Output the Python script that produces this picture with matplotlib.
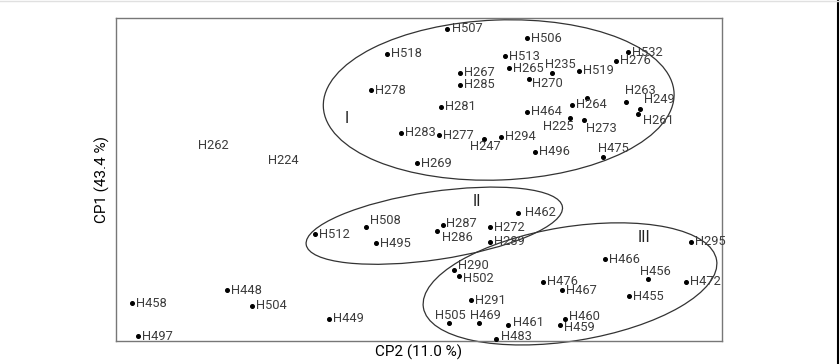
import matplotlib
matplotlib.use("Agg")
import matplotlib.pyplot as plt
from matplotlib.patches import Ellipse

plt.rcParams['font.family'] = ['Roboto', 'DejaVu Sans']

# acessos (scores CP2, CP1, unidades arbitrarias)
nomes = ["H507", "H506", "H518", "H513", "H532", "H276", "H267", "H265", "H235", "H519",
         "H285", "H270", "H278", "H263", "H249", "H281", "H464", "H264", "", "H261",
         "H225", "H273", "H283", "H277", "H294", "H247", "H496", "H475", "H269",
         "H512", "H508", "H495", "H287", "H286", "H272", "H289", "H462",
         "H295", "H466", "H290", "H502", "H456", "H472", "H476", "H467", "H455", "H291",
         "H505", "H469", "H461", "H460", "H459", "H483",
         "H448", "H458", "H504", "H449", "H497"]
cp2 = [446.7, 527.3, 386.7, 505.0, 628.3, 616.0, 460.0, 508.7, 552.3, 579.0,
       460.0, 529.3, 370.7, 626.3, 640.0, 440.7, 527.3, 572.0, 586.7, 638.0,
       569.7, 584.3, 401.0, 439.0, 500.7, 484.0, 534.7, 602.7, 417.0,
       315.3, 365.7, 376.3, 442.7, 436.7, 490.0, 490.0, 518.3,
       690.7, 605.0, 453.7, 459.0, 648.3, 686.3, 542.7, 561.7, 629.3, 471.0,
       449.3, 478.7, 508.3, 565.3, 559.7, 496.0,
       227.0, 132.3, 252.3, 329.3, 137.7]
cp1 = [29.0, 38.0, 53.7, 56.3, 52.3, 60.7, 73.0, 68.3, 73.0, 71.0,
       84.7, 79.3, 90.0, 102.0, 108.7, 106.7, 111.7, 104.7, 97.7, 114.0,
       118.0, 120.3, 132.7, 135.3, 137.0, 139.0, 151.7, 157.3, 163.3,
       234.0, 227.0, 243.3, 225.3, 231.3, 227.3, 241.7, 213.0,
       241.7, 259.3, 269.7, 275.7, 279.3, 281.7, 281.7, 290.0, 296.0, 300.0,
       323.3, 323.3, 324.7, 318.7, 324.7, 338.7,
       290.0, 303.3, 305.7, 318.7, 336.0]

# acessos sem ponto marcado (so rotulo)
soltos = ["H262", "H224"]
soltos_x = [198.0, 268.0]
soltos_y = [145.5, 161.0]

# grupos: centro x, centro y, largura, altura, angulo
grupos = ["I", "II", "III"]
grupo_cx = [498.7, 434.3, 570.0]
grupo_cy = [100.0, 225.7, 283.9]
grupo_w = [351.0, 259.0, 297.0]
grupo_h = [160.0, 68.0, 114.0]
grupo_ang = [-2.2, -8.4, -9.2]
rot_x = [346.7, 476.7, 644.0]
rot_y = [118.3, 201.7, 237.3]

# deslocamento dos rotulos (pixels, y para cima)
desloc = {"H235": (-7, 8), "H270": (3, -4), "H263": (-1, 11), "H249": (4, 9),
          "H261": (5, -6), "H225": (-27, -9), "H273": (2, -8), "H247": (-14, -8),
          "H475": (-5, 9), "H508": (4, 6), "H462": (7, 0), "H287": (3, 2),
          "H286": (5, -6), "H456": (-8, 8), "H505": (-14, 8), "H469": (-9, 8),
          "H461": (5, 2), "H460": (4, 2), "H459": (4, -3), "H483": (5, 2),
          "H290": (4, 4), "H502": (4, -3), "H507": (5, 0)}

fig = plt.figure(figsize=(8.4, 3.64), dpi=100)
ax = fig.add_axes([116/840, 23/364, 606/840, 323/364])

ax.plot(cp2, cp1, 'o', color='black', markersize=2.6, clip_on=False, zorder=3)

cor_txt = '#3c3c3c'
for n, x, y in zip(nomes, cp2, cp1):
    if n == "":
        continue
    dx, dy = desloc.get(n, (4, 0))
    ax.annotate(n, (x, y), xytext=(dx, dy), textcoords='offset pixels',
                ha='left', va='center', fontsize=9.3, color=cor_txt,
                annotation_clip=False)

for n, x, y in zip(soltos, soltos_x, soltos_y):
    ax.text(x, y, n, ha='left', va='center', fontsize=9.3, color=cor_txt)

for g, cx, cy, w, h, a, rx, ry in zip(grupos, grupo_cx, grupo_cy, grupo_w, grupo_h,
                                       grupo_ang, rot_x, rot_y):
    ax.add_patch(Ellipse((cx, cy), w, h, angle=a, fill=False, edgecolor='#333333',
                         linewidth=0.9, clip_on=False))
    ax.text(rx, ry, g, ha='center', va='center', fontsize=11.5, color='#222222')

ax.set_xlim(116, 722)
ax.set_ylim(341, 18)
ax.set_xticks([])
ax.set_yticks([])
for s in ax.spines.values():
    s.set_color('#777777')
    s.set_linewidth(1.0)

ax.set_xlabel("CP2 (11.0 %)", fontsize=11, color='black', labelpad=3)
ax.set_ylabel("CP1 (43.4 %)", fontsize=11, color='black', labelpad=4)

fig.add_artist(plt.Line2D([837.5/840, 837.5/840], [0, 1], color='black', linewidth=1.5))
fig.add_artist(plt.Line2D([0, 1], [363.5/364, 363.5/364], color='#e0e0e0', linewidth=1))

fig.savefig("out.png", dpi=100)
